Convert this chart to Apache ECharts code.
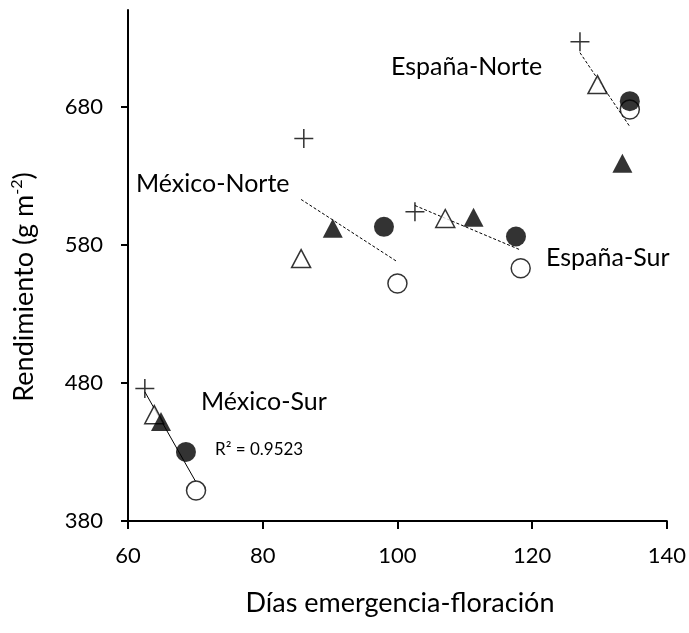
<!DOCTYPE html>
<html>
<head>
<meta charset="utf-8">
<script src="https://cdn.jsdelivr.net/npm/echarts@6/dist/echarts.min.js"></script>
<style>
  html, body { margin: 0; padding: 0; background: #fff; }
  #chart { width: 689px; height: 633px; }
</style>
</head>
<body>
<div id="chart"></div>
<script>
// Regions (one value per region in each array below, same order)
const regiones = ['México-Sur', 'México-Norte', 'España-Sur', 'España-Norte'];

// Days from emergence to flowering (x) and yield (y) per treatment
const cruzDias = [62.5, 86.1, 102.6, 127.1];
const cruzRend = [476, 657, 604, 727];
const trianguloAbiertoDias = [63.9, 85.7, 107.1, 129.7];
const trianguloAbiertoRend = [457, 570, 599, 696];
const trianguloLlenoDias = [64.9, 90.4, 111.3, 133.4];
const trianguloLlenoRend = [452, 592, 600, 639];
const circuloLlenoDias = [68.6, 98.0, 117.6, 134.5];
const circuloLlenoRend = [430, 593, 586, 684];
const circuloAbiertoDias = [70.1, 100.0, 118.3, 134.5];
const circuloAbiertoRend = [402, 552, 563, 678];

// Axis ticks
const xTicks = [60, 80, 100, 120, 140];
const yTicks = [380, 480, 580, 680];
const yMax = 750;

const r2Texto = 'R² = 0.9523';

const FONT = 'Lato';

function pares(xs, ys) { return xs.map((x, i) => [x, ys[i]]); }

// Least-squares trend line for one region, spanning its min..max x
function tendencia(idx) {
  const xs = [cruzDias, trianguloAbiertoDias, trianguloLlenoDias, circuloLlenoDias, circuloAbiertoDias].map(a => a[idx]);
  const ys = [cruzRend, trianguloAbiertoRend, trianguloLlenoRend, circuloLlenoRend, circuloAbiertoRend].map(a => a[idx]);
  const n = xs.length;
  const mx = xs.reduce((s, v) => s + v, 0) / n;
  const my = ys.reduce((s, v) => s + v, 0) / n;
  let sxy = 0, sxx = 0;
  for (let i = 0; i < n; i++) { sxy += (xs[i] - mx) * (ys[i] - my); sxx += (xs[i] - mx) ** 2; }
  const b = sxy / sxx, a = my - b * mx;
  const x0 = Math.min(...xs), x1 = Math.max(...xs);
  return [[x0, a + b * x0], [x1, a + b * x1]];
}

const lineas = regiones.map((r, i) => ({
  name: 'tendencia ' + r,
  type: 'line',
  data: tendencia(i),
  symbol: 'none',
  silent: true,
  z: 1,
  lineStyle: { color: '#000', width: 1, type: i === 0 ? 'solid' : [3, 2] }
}));

const cruz = 'path://M9.2,0H10.8V9.2H20V10.8H10.8V20H9.2V10.8H0V9.2H9.2Z';

const marcadores = [
  { name: 'cruz', data: pares(cruzDias, cruzRend), symbol: cruz, symbolSize: 19,
    itemStyle: { color: '#000' } },
  { name: 'triángulo abierto', data: pares(trianguloAbiertoDias, trianguloAbiertoRend), symbol: 'triangle', symbolSize: [19, 18],
    itemStyle: { color: '#fff', borderColor: '#000', borderWidth: 1.5 } },
  { name: 'triángulo lleno', data: pares(trianguloLlenoDias, trianguloLlenoRend), symbol: 'triangle', symbolSize: [20, 19],
    itemStyle: { color: '#000' } },
  { name: 'círculo abierto', data: pares(circuloAbiertoDias, circuloAbiertoRend), symbol: 'circle', symbolSize: 19,
    itemStyle: { color: '#fff', borderColor: '#000', borderWidth: 1.5 } },
  { name: 'círculo lleno', data: pares(circuloLlenoDias, circuloLlenoRend), symbol: 'circle', symbolSize: 20,
    itemStyle: { color: '#000' } }
].map((s, k) => Object.assign({ type: 'scatter', z: 2 + k, silent: true }, s));

const etiqueta = (texto, x, y, size, align) => ({
  type: 'text', x: x, y: y, z: 50,
  style: { text: texto, font: size + 'px ' + FONT, fill: '#000', textAlign: align || 'left', textVerticalAlign: 'middle' }
});

const chart = echarts.init(document.getElementById('chart'), null, { renderer: 'canvas' });
chart.setOption({
  animation: false,
  backgroundColor: '#fff',
  grid: { left: 128, right: 21, top: 10, bottom: 112 },
  xAxis: {
    type: 'value', min: xTicks[0], max: xTicks[xTicks.length - 1], interval: 20,
    splitLine: { show: false },
    axisLine: { show: true, onZero: false, lineStyle: { color: '#000', width: 2 } },
    axisTick: { show: true, inside: false, length: 8, lineStyle: { color: '#000', width: 2 } },
    axisLabel: { color: '#000', fontFamily: FONT, fontSize: 22, margin: 24 }
  },
  yAxis: {
    type: 'value', min: yTicks[0], max: yMax, interval: 100,
    splitLine: { show: false },
    axisLine: { show: true, onZero: false, lineStyle: { color: '#000', width: 2 } },
    axisTick: { show: true, inside: false, length: 7, customValues: yTicks, lineStyle: { color: '#000', width: 2 } },
    axisLabel: { color: '#000', fontFamily: FONT, fontSize: 22, margin: 25, customValues: yTicks }
  },
  series: lineas.concat(marcadores),
  graphic: [
    etiqueta('España-Norte', 391, 67, 25),
    etiqueta('México-Norte', 136, 184, 25),
    etiqueta('España-Sur', 546, 258, 25),
    etiqueta('México-Sur', 201, 402, 25),
    etiqueta(r2Texto, 215, 450, 17),
    etiqueta('Días emergencia-floración', 400, 603, 27, 'center'),
    {
      type: 'text', x: 24, y: 287, rotation: Math.PI / 2, z: 50,
      style: {
        text: '{a|Rendimiento (g m}{s|-2}{a|)}',
        textAlign: 'center', textVerticalAlign: 'middle', fill: '#000',
        rich: {
          a: { fontFamily: FONT, fontSize: 27, lineHeight: 30, fill: '#000' },
          s: { fontFamily: FONT, fontSize: 16, lineHeight: 30, verticalAlign: 'top', fill: '#000' }
        }
      }
    }
  ]
});
</script>
</body>
</html>
